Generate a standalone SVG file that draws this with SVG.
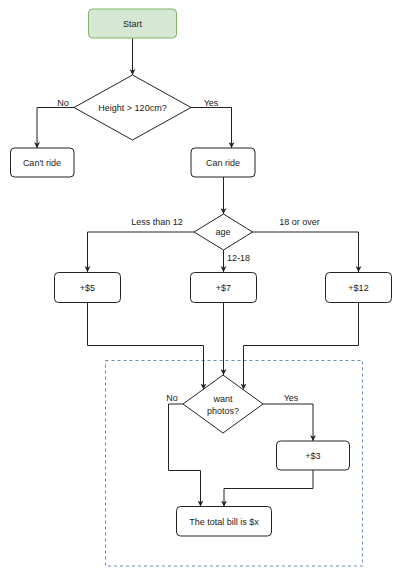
<svg xmlns="http://www.w3.org/2000/svg" width="400" height="573" viewBox="0 0 400 573">
<style>
.n{fill:#fff;stroke:#222;stroke-width:1}
.t{font-family:"Liberation Sans",Arial,sans-serif;font-size:9px;fill:#222;text-anchor:middle;dominant-baseline:central}
.l{font-family:"Liberation Sans",Arial,sans-serif;font-size:9px;fill:#222;text-anchor:middle}
.c{fill:none;stroke:#222;stroke-width:1}
</style>
<defs>
<marker id="a" viewBox="0 0 10 10" refX="10" refY="5" markerWidth="6" markerHeight="6" markerUnits="userSpaceOnUse" orient="auto">
<path d="M0,0 L10,5 L0,10 L3,5 Z" fill="#222"/>
</marker>
</defs>
<rect x="105.5" y="360.5" width="257" height="205.5" fill="none" stroke="#6c8ebf" stroke-width="1" stroke-dasharray="3 3"/>
<g id="connectors">
<path class="c" marker-end="url(#a)" d="M132.5 38 V75"/>
<path class="c" marker-end="url(#a)" d="M74 107.5 H37 V148"/>
<path class="c" marker-end="url(#a)" d="M191 107.5 H231.5 V148"/>
<path class="c" marker-end="url(#a)" d="M223.5 177 V214"/>
<path class="c" marker-end="url(#a)" d="M194 232 H87.5 V272"/>
<path class="c" marker-end="url(#a)" d="M223.5 250 V272"/>
<path class="c" marker-end="url(#a)" d="M252 232 H358.5 V272"/>
<path class="c" marker-end="url(#a)" d="M87.5 302 V345.5 H203.5 V389.5"/>
<path class="c" marker-end="url(#a)" d="M223.5 302 V375"/>
<path class="c" marker-end="url(#a)" d="M358.5 302 V345.5 H243.5 V389.5"/>
<path class="c" marker-end="url(#a)" d="M183 404 H168.5 V470.5 H200.5 V506.5"/>
<path class="c" marker-end="url(#a)" d="M263 404 H313 V441"/>
<path class="c" marker-end="url(#a)" d="M313 470 V488.5 H224 V506.5"/>
<text class="l" x="63" y="106">No</text>
<text class="l" x="211" y="106">Yes</text>
<text class="l" x="157" y="224.5">Less than 12</text>
<text class="l" x="299.5" y="224.5">18 or over</text>
<text class="l" x="238.5" y="261">12-18</text>
<text class="l" x="172" y="400.5">No</text>
<text class="l" x="291" y="400.5">Yes</text>
</g>
<g id="start"><rect x="88.5" y="9" width="88" height="29" rx="4" fill="#d5e8d4" stroke="#82b366"/><text class="t" x="132.5" y="23.5">Start</text></g>
<g id="height"><path class="n" d="M132.5 75 L191 107.5 L132.5 140 L74 107.5 Z"/><text class="t" x="132.5" y="107.5">Height &gt; 120cm?</text></g>
<g id="cantride"><rect class="n" x="10.5" y="148" width="63.5" height="29" rx="4"/><text class="t" x="42" y="162.5">Can't ride</text></g>
<g id="canride"><rect class="n" x="191" y="148" width="64" height="29" rx="4"/><text class="t" x="223" y="162.5">Can ride</text></g>
<g id="age"><path class="n" d="M223.5 214 L252.5 232 L223.5 250 L194 232 Z"/><text class="t" x="223" y="231.5">age</text></g>
<g id="p5"><rect class="n" x="54.5" y="272.5" width="66" height="30" rx="4"/><text class="t" x="87.5" y="287.5">+$5</text></g>
<g id="p7"><rect class="n" x="190.5" y="272.5" width="66" height="30" rx="4"/><text class="t" x="223.5" y="287.5">+$7</text></g>
<g id="p12"><rect class="n" x="325.5" y="272.5" width="66" height="30" rx="4"/><text class="t" x="358.5" y="287.5">+$12</text></g>
<g id="photos"><path class="n" d="M223 375 L263 404 L223 433 L183 404 Z"/><text class="t" x="223" y="399">want</text><text class="t" x="223" y="410.5">photos?</text></g>
<g id="p3"><rect class="n" x="276.5" y="441" width="73" height="29" rx="4"/><text class="t" x="313" y="455.5">+$3</text></g>
<g id="total"><rect class="n" x="176.5" y="506.5" width="95" height="29.5" rx="4"/><text class="t" x="224" y="521.5">The total bill is $x</text></g>
</svg>
